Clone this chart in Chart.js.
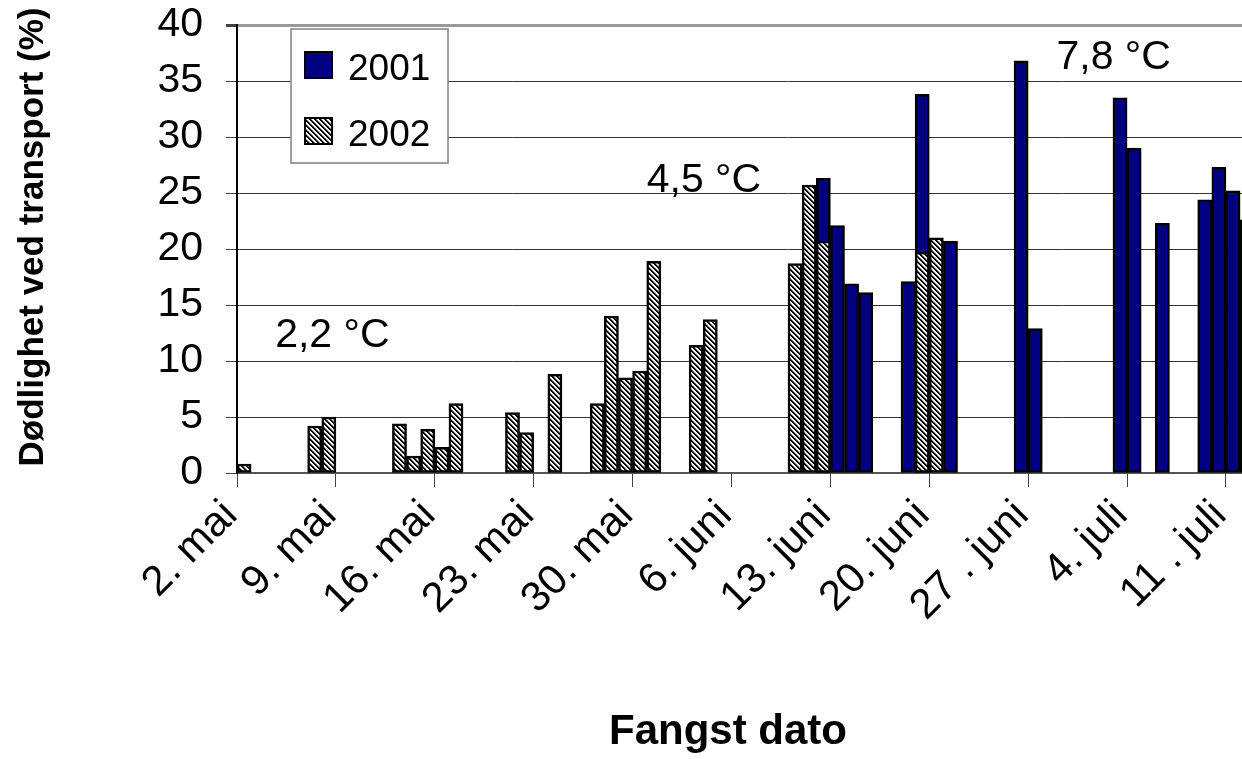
<!DOCTYPE html>
<html>
<head>
<meta charset="utf-8">
<script src="https://cdn.jsdelivr.net/npm/chart.js@4.4.1/dist/chart.umd.min.js"></script>
<style>
  html, body { margin: 0; padding: 0; background: #fff; overflow: hidden; }
  #wrap { width: 1345px; height: 759px; }
</style>
</head>
<body>
<div id="wrap"><canvas id="chart" width="1345" height="759"></canvas></div>
<script>
// day offsets counted from 2. mai, one bar per catch day
const DAYS_2001 = [41, 42, 43, 44, 47, 48, 50, 55, 56, 62, 63, 65, 68, 69, 70, 71];
const VALUES_2001 = [26.3, 22.1, 16.9, 16.1, 17.1, 33.8, 20.7, 36.8, 12.9, 33.5, 29.0, 22.3, 24.4, 27.3, 25.2, 22.6];
const DAYS_2002 = [0, 5, 6, 11, 12, 13, 14, 15, 19, 20, 22, 25, 26, 27, 28, 29, 32, 33, 39, 40, 41, 48, 49];
const VALUES_2002 = [0.8, 4.2, 5.0, 4.4, 1.5, 3.9, 2.3, 6.2, 5.4, 3.6, 8.8, 6.2, 14.0, 8.5, 9.1, 18.9, 11.4, 13.7, 18.7, 25.7, 20.7, 19.7, 21.0];
const TICK_DAYS = [0, 7, 14, 21, 28, 35, 42, 49, 56, 63, 70];
const TICK_LABELS = ['2. mai', '9. mai', '16. mai', '23. mai', '30. mai', '6. juni', '13. juni', '20. juni', '27 . juni', '4. juli', '11 . juli'];
const SERIES_NAMES = ['2001', '2002'];
const TEMP_LABELS = ['2,2 °C', '4,5 °C', '7,8 °C'];

const FONT = "'Liberation Sans', Arial, sans-serif";
const NAVY = '#000080';

// diagonal hatch used for 2002
function makeHatch() {
    const size = 5;
    const tile = document.createElement('canvas');
    tile.width = size;
    tile.height = size;
    const tctx = tile.getContext('2d');
    const img = tctx.createImageData(size, size);
    for (let y = 0; y < size; y++) {
        for (let x = 0; x < size; x++) {
            const k = ((x - y) % size + size) % size;
            const v = k < 2 ? 0 : (k === 2 ? 140 : 255);
            const i = (y * size + x) * 4;
            img.data[i] = v; img.data[i + 1] = v; img.data[i + 2] = v; img.data[i + 3] = 255;
        }
    }
    tctx.putImageData(img, 0, 0);
    return document.getElementById('chart').getContext('2d').createPattern(tile, 'repeat');
}
const hatch = makeHatch();

const toPoints = (days, values) => days.map((d, i) => ({ x: d + 0.5, y: values[i] }));

const extras = {
    id: 'extras',
    afterDraw(chart) {
        const ctx = chart.ctx;
        const xs = chart.scales.x;
        const ys = chart.scales.y;
        ctx.save();

        // legend box
        ctx.fillStyle = '#fff';
        ctx.fillRect(291, 29, 157, 134);
        ctx.strokeStyle = '#808080';
        ctx.lineWidth = 1.5;
        ctx.strokeRect(291, 29, 157, 134);
        const swatches = [NAVY, hatch];
        ctx.font = '37px ' + FONT;
        ctx.textBaseline = 'alphabetic';
        ctx.textAlign = 'left';
        SERIES_NAMES.forEach((name, i) => {
            const top = 52 + i * 66;
            ctx.fillStyle = swatches[i];
            ctx.fillRect(305, top, 27, 26);
            ctx.strokeStyle = '#000';
            ctx.lineWidth = 2;
            ctx.strokeRect(305, top, 27, 26);
            ctx.fillStyle = '#000';
            ctx.fillText(name, 348, top + 28);
        });

        // temperature notes, anchored on the scales
        const anchors = [[2.7, 11.25], [29.0, 25.1], [58.0, 36.1]];
        ctx.font = '41px ' + FONT;
        ctx.fillStyle = '#000';
        TEMP_LABELS.forEach((t, i) => {
            ctx.fillText(t, xs.getPixelForValue(anchors[i][0]), ys.getPixelForValue(anchors[i][1]));
        });

        // axis titles
        ctx.font = 'bold 42px ' + FONT;
        ctx.textAlign = 'center';
        ctx.textBaseline = 'middle';
        ctx.fillText('Fangst dato', 728, 732);

        ctx.font = 'bold 35px ' + FONT;
        ctx.translate(33, 237);
        ctx.rotate(-Math.PI / 2);
        ctx.fillText('Dødlighet ved transport (%)', 0, 0);
        ctx.restore();
    }
};

new Chart(document.getElementById('chart'), {
    type: 'bar',
    data: {
        datasets: [{
            label: SERIES_NAMES[0],
            data: toPoints(DAYS_2001, VALUES_2001),
            backgroundColor: NAVY,
            order: 2
        }, {
            label: SERIES_NAMES[1],
            data: toPoints(DAYS_2002, VALUES_2002),
            backgroundColor: hatch,
            order: 1
        }]
    },
    options: {
        responsive: false,
        animation: false,
        devicePixelRatio: 1,
        layout: { padding: { top: 25, right: 6, left: 0, bottom: 0 } },
        datasets: {
            bar: {
                grouped: false,
                categoryPercentage: 1,
                barPercentage: 1,
                borderColor: '#000',
                borderWidth: 2.5,
                borderSkipped: false
            }
        },
        plugins: {
            legend: { display: false },
            tooltip: { enabled: false }
        },
        scales: {
            x: {
                type: 'linear',
                min: 0,
                max: 78,
                offset: false,
                afterFit: (scale) => { scale.height = 286; },
                afterBuildTicks: (scale) => { scale.ticks = TICK_DAYS.map(v => ({ value: v })); },
                grid: {
                    offset: false,
                    drawOnChartArea: false,
                    tickLength: 14,
                    tickColor: '#444',
                    tickWidth: 1
                },
                border: { color: '#555', width: 2 },
                ticks: {
                    autoSkip: false,
                    minRotation: 45,
                    maxRotation: 45,
                    padding: 4,
                    labelOffset: -6,
                    color: '#000',
                    font: { family: FONT, size: 42 },
                    callback: (v) => TICK_LABELS[TICK_DAYS.indexOf(v)]
                }
            },
            y: {
                min: 0,
                max: 40,
                afterFit: (scale) => {
                    scale.width = 237;
                    scale.paddingTop = 0;
                    scale.paddingBottom = 0;
                },
                grid: {
                    tickLength: 11,
                    tickColor: '#444',
                    color: (c) => c.tick && c.tick.value === 40 ? '#999' : '#333',
                    lineWidth: (c) => c.tick && c.tick.value === 40 ? 3 : 1
                },
                border: { color: '#000', width: 2 },
                ticks: {
                    stepSize: 5,
                    padding: 23,
                    color: '#000',
                    font: { family: FONT, size: 41 }
                }
            }
        }
    },
    plugins: [extras]
});
</script>
</body>
</html>
